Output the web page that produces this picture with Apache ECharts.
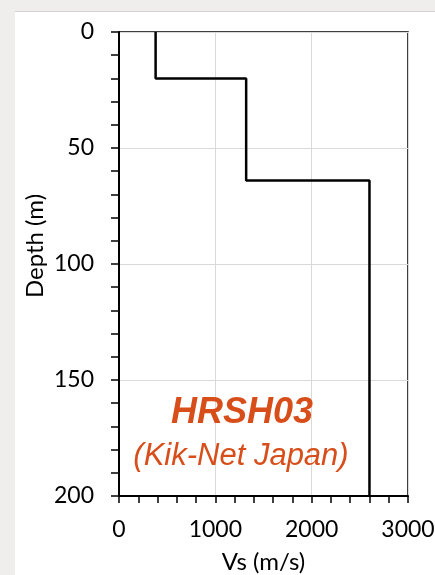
<!DOCTYPE html>
<html>
<head>
<meta charset="utf-8">
<script src="https://cdn.jsdelivr.net/npm/echarts@6/dist/echarts.min.js"></script>
<style>
html,body{margin:0;padding:0;background:#efeeec;overflow:hidden;}
#c{width:435px;height:575px;}
</style>
</head>
<body>
<div id="c"></div>
<script>
// Layer data: shear wave velocity profile
const vsValues = [380, 1320, 2600];      // m/s
const layerTop = [0, 20, 64];            // m
const layerBottom = [20, 64, 200];       // m
const xTicks = [0, 1000, 2000, 3000];
const yTicks = [0, 50, 100, 150, 200];
const stationName = 'HRSH03';
const networkName = '(Kik-Net Japan)';
const xAxisTitle = 'Vs (m/s)';
const yAxisTitle = 'Depth (m)';

const pts = [];
for (let i = 0; i < vsValues.length; i++) {
  pts.push([vsValues[i], layerTop[i]]);
  pts.push([vsValues[i], layerBottom[i]]);
}

const axisFont = 'Lato, "Open Sans", sans-serif';
const chart = echarts.init(document.getElementById('c'), null, {renderer: 'canvas'});
chart.setOption({
  animation: false,
  backgroundColor: 'transparent',
  graphic: [
    {id: 'panel', type: 'rect', z: -10, shape: {x: 15, y: 11, width: 420, height: 564}, style: {fill: '#ffffff'}},
    {id: 'panelTop', type: 'line', z: -9, shape: {x1: 15, y1: 11.5, x2: 435, y2: 11.5}, style: {stroke: '#d2d2d2', lineWidth: 1}},
    {id: 'yTitle', type: 'text', z: 10, x: 35, y: 246, rotation: Math.PI / 2, style: {text: yAxisTitle, x: 0, y: 0, textAlign: 'center', textVerticalAlign: 'middle', font: '24px Lato, "Open Sans", sans-serif', fill: '#000'}},
    {id: 't1', type: 'text', z: 10, style: {text: stationName, x: 242, y: 431, textAlign: 'center', textVerticalAlign: 'bottom', font: 'italic bold 36px "Liberation Sans", Arial, sans-serif', fill: '#d84e1a'}},
    {id: 't2', type: 'text', z: 10, style: {text: networkName, x: 241, y: 441, textAlign: 'center', textVerticalAlign: 'top', font: 'italic 31px "Liberation Sans", Arial, sans-serif', fill: '#d84e1a'}}
  ],
  grid: {left: 119, right: 27, top: 32, bottom: 79, outerBoundsMode: 'none', containLabel: false, show: true, borderColor: '#000', borderWidth: 1.5, backgroundColor: '#fff'},
  xAxis: {
    type: 'value', min: xTicks[0], max: xTicks[xTicks.length-1], interval: 1000,
    name: xAxisTitle, nameLocation: 'middle', nameGap: 54,
    nameTextStyle: {fontFamily: axisFont, fontSize: 24, color: '#000'},
    axisLine: {show: true, onZero: false, lineStyle: {color: '#000', width: 2}},
    axisTick: {show: true, inside: false, length: 7, lineStyle: {color: '#000', width: 1.5}},
    minorTick: {show: true, splitNumber: 5, length: 7, lineStyle: {color: '#000', width: 1.5}},
    axisLabel: {fontFamily: axisFont, fontSize: 23, color: '#000', margin: 22, formatter: v => String(v)},
    splitLine: {show: true, lineStyle: {color: '#d9d9d9', width: 1}}
  },
  yAxis: {
    type: 'value', inverse: true, min: yTicks[0], max: yTicks[yTicks.length-1], interval: 50,
    axisLine: {show: true, onZero: false, lineStyle: {color: '#000', width: 2}},
    axisTick: {show: true, inside: false, length: 8, lineStyle: {color: '#000', width: 1.5}},
    minorTick: {show: true, splitNumber: 5, length: 8, lineStyle: {color: '#000', width: 1.5}},
    axisLabel: {fontFamily: axisFont, fontSize: 23, color: '#000', margin: 25, formatter: v => String(v)},
    splitLine: {show: true, lineStyle: {color: '#d9d9d9', width: 1}}
  },
  series: [{
    type: 'line', data: pts, showSymbol: false, symbol: 'none',
    lineStyle: {color: '#000', width: 2.5}, z: 5
  }]
});
</script>
</body>
</html>
